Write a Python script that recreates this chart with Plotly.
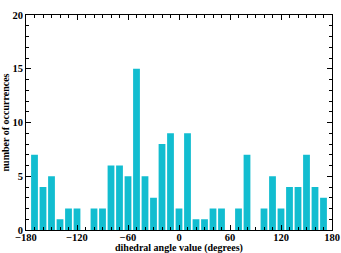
import plotly.graph_objects as go

angles = [-170, -160, -150, -140, -130, -120, -110, -100, -90, -80, -70, -60,
          -50, -40, -30, -20, -10, 0, 10, 20, 30, 40, 50, 60, 70, 80, 90, 100,
          110, 120, 130, 140, 150, 160, 170]
counts = [7, 4, 5, 1, 2, 2, 0, 2, 2, 6, 6, 5,
          15, 5, 3, 8, 9, 2, 9, 1, 1, 2, 2, 0, 2, 7, 0, 2,
          5, 2, 4, 4, 7, 4, 3]
x_ticks = [-180, -120, -60, 0, 60, 120, 180]
y_ticks = [0, 5, 10, 15, 20]

SERIF = "Liberation Serif, Times New Roman, serif"

fig = go.Figure(go.Bar(x=angles, y=counts, marker=dict(color="#12BDD0", line=dict(width=0)), width=8))

fig.update_layout(
    width=341, height=253,
    margin=dict(l=26, r=9, t=15, b=23),
    paper_bgcolor="white", plot_bgcolor="white",
    showlegend=False,
    font=dict(family=SERIF, size=10.5, color="black"),
)
fig.update_xaxes(
    range=[-180, 180], tickvals=x_ticks, ticks="inside", ticklen=5, tickwidth=1,
    tickcolor="black", showline=True, linecolor="black", linewidth=1, mirror="allticks",
    showgrid=False, zeroline=False, automargin=False, ticklabelstandoff=-3,
    tickfont=dict(family=SERIF, size=10.5, weight="bold", color="black"),
    minor=dict(dtick=10, tick0=-180, ticks="inside", ticklen=3, tickcolor="black", showgrid=False),
)
fig.update_yaxes(
    range=[0, 20], tickvals=y_ticks, ticks="inside", ticklen=5, tickwidth=1,
    tickcolor="black", showline=True, linecolor="black", linewidth=1, mirror="allticks",
    showgrid=False, zeroline=False, automargin=False,
    tickfont=dict(family=SERIF, size=10.5, weight="bold", color="black"),
    minor=dict(dtick=1, ticks="inside", ticklen=3, tickcolor="black", showgrid=False),
    title=dict(text="number of occurrences", standoff=0,
               font=dict(family=SERIF, size=10, weight="bold", color="black")),
)
fig.add_annotation(text="dihedral angle value (degrees)", xref="paper", yref="paper",
                   x=0.5, y=-0.082, xanchor="center", yanchor="middle", showarrow=False,
                   font=dict(family=SERIF, size=10, weight="bold", color="black"))

fig.write_html("out.html")
